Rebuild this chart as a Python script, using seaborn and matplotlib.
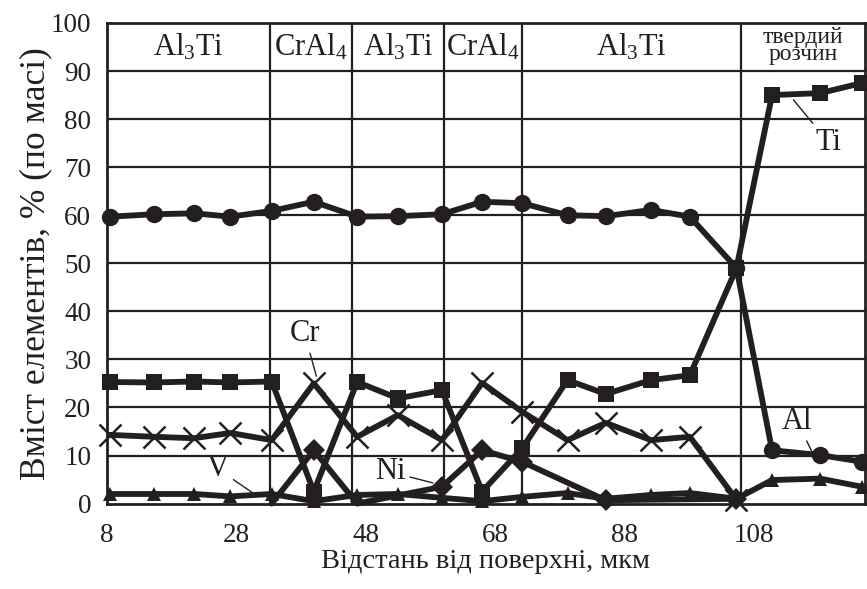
import matplotlib
matplotlib.use("Agg")
import matplotlib.pyplot as plt
import seaborn as sns

# ==========================================================
# DATA
# ==========================================================

# distance from the surface of each measured point, um
distance = [8.5, 15.3, 21.5, 27.1, 33.5, 40.0, 46.7, 53.0, 59.8, 66.0,
            72.2, 79.2, 85.1, 92.1, 98.1, 105.3, 110.8, 118.2, 124.7]

al = [59.7, 60.2, 60.4, 59.7, 60.9, 62.8, 59.7, 59.8, 60.2, 62.8,
      62.5, 60.0, 59.8, 61.1, 59.7, 49.0, 11.1, 10.1, 8.7]
ti = [25.3, 25.2, 25.4, 25.2, 25.4, 2.5, 25.3, 21.9, 23.6, 2.5,
      11.5, 25.7, 22.8, 25.7, 26.7, 49.0, 85.0, 85.4, 87.5]
v = [2.0, 2.0, 2.0, 1.5, 2.0, 0.5, 1.8, 2.0, 1.2, 0.5,
     1.4, 2.2, 1.0, 1.8, 2.2, 1.0, 4.9, 5.2, 3.5]

# Cr and Ni go only up to 105 um
cr_distance = distance[:16]
cr = [14.3, 13.9, 13.6, 14.7, 13.2, 25.0, 13.9, 18.4, 13.2, 25.1,
      19.1, 13.2, 16.8, 13.2, 13.9, 0.8]
ni_distance = [33.5, 40.0, 46.7, 59.8, 66.0, 72.2, 85.1, 105.3]
ni = [0.0, 11.1, 0.0, 3.5, 11.1, 8.7, 0.7, 1.0]
ni_visible = [1, 3, 4, 5, 6, 7]

# phase zones along the depth
phase_bounds = [33.2, 45.9, 60.1, 72.1, 106.0]
phase_names = ["Al$_\\mathrm{3}$Ti", "CrAl$_\\mathrm{4}$", "Al$_\\mathrm{3}$Ti",
               "CrAl$_\\mathrm{4}$", "Al$_\\mathrm{3}$Ti", "твердий\nрозчин"]

x_ticks = [8, 28, 48, 68, 88, 108]
y_ticks = [0, 10, 20, 30, 40, 50, 60, 70, 80, 90, 100]
x_min, x_max = 8, 125.2

# ==========================================================
# STYLE
# ==========================================================

sns.set_theme(style="white")
plt.rcParams["font.family"] = ["Liberation Serif", "DejaVu Serif"]
plt.rcParams["mathtext.fontset"] = "custom"
plt.rcParams["mathtext.rm"] = "Liberation Serif"
plt.rcParams["mathtext.it"] = "Liberation Serif:italic"

ink = "#231f20"

fig = plt.figure(figsize=(8.67, 5.89), dpi=100)
ax = fig.add_axes([0.123, 0.145, 0.875, 0.816])

# ==========================================================
# GRID AND PHASE ZONES
# ==========================================================

for yv in y_ticks[1:-1]:
    ax.axhline(yv, color=ink, lw=1.6, zorder=1)
for xb in phase_bounds:
    ax.axvline(xb, color=ink, lw=1.6, zorder=1)

edges = [x_min] + phase_bounds + [x_max]
for i, name in enumerate(phase_names):
    xc = (edges[i] + edges[i + 1]) / 2
    if "\n" in name:
        ax.text(xc, 95.2, name, ha="center", va="center", fontsize=17,
                color=ink, linespacing=0.8)
    else:
        ax.text(xc, 95.0, name, ha="center", va="center", fontsize=22, color=ink)

# ==========================================================
# LINES
# ==========================================================

common = dict(ax=ax, color=ink, linewidth=4.2, markeredgecolor=ink,
              clip_on=False, sort=False)

sns.lineplot(x=distance, y=al, marker="o", markersize=12.5,
             markeredgewidth=0, zorder=3, **common)
sns.lineplot(x=distance, y=v, marker="^", markersize=10,
             markeredgewidth=0, zorder=4, **common)
sns.lineplot(x=ni_distance, y=ni, marker="D", markersize=11,
             markeredgewidth=0, markevery=ni_visible, zorder=5, **common)
sns.lineplot(x=cr_distance, y=cr, marker="x", markersize=16,
             markeredgewidth=1.8, zorder=6, **common)
sns.lineplot(x=distance, y=ti, marker="s", markersize=12,
             markeredgewidth=0, zorder=7, **common)

# element labels with leader lines
leader = dict(arrowstyle="-", color=ink, lw=1.0, shrinkA=1, shrinkB=0)
ax.annotate("Cr", xy=(40.4, 26.5), xytext=(38.6, 35.3), fontsize=22,
            ha="center", va="center", color=ink, arrowprops=leader, zorder=8)
ax.annotate("V", xy=(30.6, 2.2), xytext=(25.2, 7.2), fontsize=22,
            ha="center", va="center", color=ink, arrowprops=leader, zorder=8)
ax.annotate("Ni", xy=(58.4, 4.3), xytext=(51.8, 6.6), fontsize=22,
            ha="center", va="center", color=ink, arrowprops=leader, zorder=8)
ax.annotate("Ti", xy=(114.1, 84.0), xytext=(119.5, 75.2), fontsize=22,
            ha="center", va="center", color=ink, arrowprops=leader, zorder=8)
ax.annotate("Al", xy=(117.0, 10.7), xytext=(114.7, 17.0), fontsize=22,
            ha="center", va="center", color=ink, arrowprops=leader, zorder=8)

# ==========================================================
# AXES
# ==========================================================

ax.set_xlim(x_min, x_max)
ax.set_ylim(0, 100)
ax.set_xticks(x_ticks)
ax.set_yticks(y_ticks)
ax.tick_params(axis="both", labelsize=19.5, direction="out", length=6,
               width=1.6, color=ink, labelcolor=ink)
ax.tick_params(axis="x", pad=8)
ax.tick_params(axis="y", pad=5)
for side in ax.spines.values():
    side.set_color(ink)
    side.set_linewidth(2.0)
    side.set_visible(True)

ax.set_xlabel("Відстань від поверхні, мкм", fontsize=20.5, color=ink, labelpad=1)
ax.set_ylabel("Вміст елементів, % (по масі)", fontsize=25.5, color=ink, labelpad=-1)
ax.grid(False)

fig.savefig("out.png", dpi=100)
